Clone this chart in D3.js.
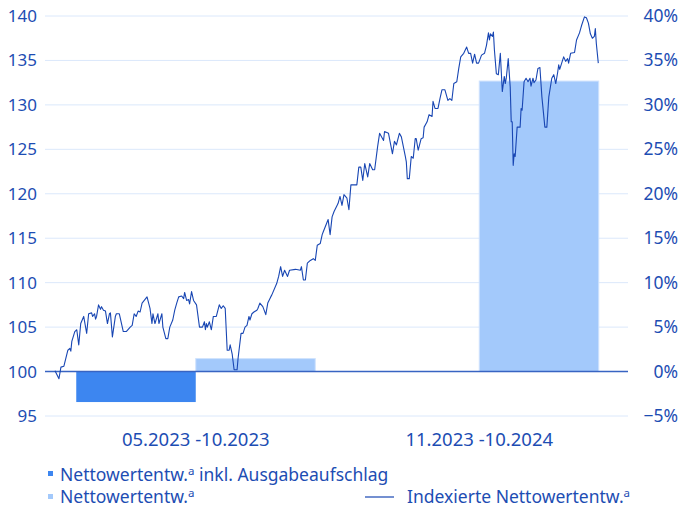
<!DOCTYPE html>
<meta charset="utf-8">
<body style="margin:0">
<script src="https://cdn.jsdelivr.net/npm/d3@7"></script>
<div id="chart"></div>
<script>
// periods and bar values (in %)
var periods = ['05.2023 -10.2023', '11.2023 -10.2024'];
var inklAufschlag = [-3.43, null];
var netto = [1.46, 32.68];

// indexed NAV, days since 01.05.2023
var days = [0,4,6,9,13,15,16,17,20,22,24,26,29,32,34,37,38,40,41,42,44,46,47,49,51,53,55,56,58,61,62,65,69,72,76,78,80,82,84,86,88,93,96,98,99,101,104,105,108,109,112,114,116,119,121,123,125,128,130,131,133,135,136,138,140,143,
  146,149,151,152,153,154,156,158,160,163,166,168,170,172,174,176,177,179,181,184,185,188,190,192,194,196,197,199,201,204,205,207,210,213,215,218,219,224,226,228,230,232,235,237,243,248,249,251,253,255,258,261,263,265,268,270,271,276,278,280,282,286,288,290,292,
  295,297,299,305,307,309,311,313,316,318,321,323,326,328,332,333,337,341,343,345,348,350,354,355,356,358,360,362,364,365,367,370,372,373,376,378,381,382,384,387,389,391,394,397,399,401,403,406,408,410,413,416,418,420,422,424,426,428,431,434,
  436,438,439,440,442,443,444,446,448,450,452,454,455,456,458,460,461,462,463,464,465,467,470,471,472,474,476,478,480,481,483,484,486,488,490,492,495,497,499,502,504,506,508,509,510,512,514,516,518,519,521,525,527,530,532,535,537,539,541,543,545,546,547,549];
var nav = [100.1,99.2,100.5,100.6,102.4,102.6,102.3,103.4,104.5,104.7,103.0,105.4,106.2,104.3,106.5,106.6,106.2,106.5,105.9,106.2,107.5,107.0,107.3,106.9,106.8,105.4,106.5,106.6,103.9,106.2,106.5,106.5,104.5,104.5,105.0,105.2,106.5,106.2,106.8,106.7,107.7,108.4,107.1,105.4,106.5,105.4,106.5,105.4,106.5,105.0,103.7,103.7,105.0,105.8,106.9,107.7,108.4,108.5,108.2,108.9,108.0,108.1,107.6,109.0,108.0,107.5,
  105.0,105.0,105.6,104.7,105.4,105.0,105.6,104.7,106.2,106.2,107.5,107.1,107.4,107.1,102.4,102.4,103.0,102.0,100.2,100.2,101.5,104.3,104.3,105.0,105.2,106.2,105.8,106.5,106.7,106.9,107.1,107.7,107.3,106.4,107.7,108.4,108.6,109.9,110.7,111.8,110.7,111.4,110.7,111.4,111.5,111.4,111.8,110.3,110.3,112.2,112.5,112.7,112.5,114.2,114.4,115.4,115.7,117.1,115.4,117.4,118.0,118.9,119.7,118.7,119.9,
  119.5,118.2,121.0,121.0,123.0,123.0,121.5,123.4,121.9,123.4,122.7,122.7,125.3,126.8,126.0,127.0,126.8,124.5,125.9,125.5,126.8,126.4,124.2,123.6,121.7,121.7,124.2,124.0,126.2,126.2,124.9,126.2,126.3,127.5,128.1,128.9,128.7,130.4,129.6,129.6,130.7,131.7,131.7,130.5,130.7,130.5,132.4,132.6,134.1,135.4,135.8,136.5,135.8,135.8,134.7,135.7,134.7,134.7,135.6,135.8,
  136.7,138.1,137.3,138.0,137.7,138.2,136.2,133.5,133.4,135.8,131.5,133.2,132.4,133.0,135.2,132.0,128.1,128.1,123.2,124.5,124.2,127.5,127.5,129.6,129.4,132.6,133.0,132.6,133.0,132.1,133.0,132.5,132.8,134.1,134.2,130.9,127.5,127.5,130.9,133.0,133.4,132.4,133.7,134.5,134.0,134.7,135.4,134.9,135.2,134.7,135.8,135.9,137.3,138.1,138.9,139.9,139.8,139.2,138.0,137.5,137.7,138.6,136.9,134.7];

var leftTicks = [95, 100, 105, 110, 115, 120, 125, 130, 135, 140];
var rightTicks = [-5, 0, 5, 10, 15, 20, 25, 30, 35, 40];

var W = 681, H = 510;
var textColor = '#1d4db3', darkBar = '#3d86f0', lightBar = '#a3c9fb', lineColor = '#1846b3';
var font = "'Noto Sans', sans-serif";

var svg = d3.select('#chart').append('svg').attr('width', W).attr('height', H)
  .style('font-family', font);

var yL = d3.scaleLinear().domain([95, 140]).range([416, 16]);
var yR = d3.scaleLinear().domain([-5, 40]).range([416, 16]);

var x0 = d3.scaleBand().domain(periods).range([54, 621]).paddingInner(0.157).paddingOuter(0.0785);
var x1 = d3.scaleBand().domain(['inkl', 'netto']).range([0, x0.bandwidth()]);
var start = new Date(2023, 4, 1);
var xt = d3.scaleTime().domain([start, d3.timeDay.offset(start, 549)]).range([55, 598.3]);

// grid
svg.append('g').selectAll('line').data(leftTicks).join('line')
  .attr('x1', 45).attr('x2', 628)
  .attr('y1', function(d) { return yL(d); }).attr('y2', function(d) { return yL(d); })
  .attr('stroke', '#dbe8fb').attr('stroke-width', 1);

// left axis labels
svg.append('g').selectAll('text').data(leftTicks).join('text')
  .attr('x', 37).attr('y', function(d) { return yL(d) + 6; })
  .attr('text-anchor', 'end').attr('fill', textColor).style('font-size', '17px')
  .text(function(d) { return d; });

// right axis labels
svg.append('g').selectAll('text').data(rightTicks).join('text')
  .attr('x', 678).attr('y', function(d) { return yR(d) + 6; })
  .attr('text-anchor', 'end').attr('fill', textColor).style('font-size', '17.5px')
  .text(function(d) { return (d < 0 ? '\u2212' + Math.abs(d) : d) + '%'; });

// bars
var barData = [];
periods.forEach(function(p, i) {
  if (inklAufschlag[i] != null) barData.push({ p: p, k: 'inkl', v: inklAufschlag[i] });
  if (netto[i] != null) barData.push({ p: p, k: 'netto', v: netto[i] });
});
svg.append('g').selectAll('rect').data(barData).join('rect')
  .attr('x', function(d) { return x0(d.p) + x1(d.k); })
  .attr('width', x1.bandwidth())
  .attr('y', function(d) { return yR(Math.max(0, d.v)); })
  .attr('height', function(d) { return Math.abs(yR(d.v) - yR(0)); })
  .attr('fill', function(d) { return d.k == 'inkl' ? darkBar : lightBar; })
  .attr('stroke', function(d) { return d.k == 'inkl' ? 'none' : '#cfe2fd'; })
  .attr('stroke-width', 1);

// zero line
svg.append('line').attr('x1', 45).attr('x2', 628).attr('y1', yR(0)).attr('y2', yR(0))
  .attr('stroke', '#3864c2').attr('stroke-width', 1.5);

// indexed line
var pts = days.map(function(d, i) { return [d3.timeDay.offset(start, d), nav[i]]; });
svg.append('path').datum(pts)
  .attr('fill', 'none').attr('stroke', lineColor).attr('stroke-width', 1.1)
  .attr('stroke-linejoin', 'round')
  .attr('d', d3.line().x(function(d) { return xt(d[0]); }).y(function(d) { return yL(d[1]); }));

// category labels
svg.append('g').selectAll('text').data(periods).join('text')
  .attr('x', function(d) { return x0(d) + x0.bandwidth() / 2; }).attr('y', 446)
  .attr('text-anchor', 'middle').attr('fill', textColor).style('font-size', '18.5px')
  .text(function(d) { return d; });

// legend
function legendText(g, x, y, before, after) {
  var t = g.append('text').attr('x', x).attr('y', y).attr('fill', textColor).style('font-size', '17.5px');
  t.append('tspan').text(before);
  t.append('tspan').attr('dy', -6).style('font-size', '11.5px').text('a');
  if (after) t.append('tspan').attr('dy', 6).text(after);
}
var lg = svg.append('g');
lg.append('rect').attr('x', 48).attr('y', 471).attr('width', 5).attr('height', 5).attr('fill', darkBar);
legendText(lg, 60, 481, 'Nettowertentw.', ' inkl. Ausgabeaufschlag');
lg.append('rect').attr('x', 48).attr('y', 494).attr('width', 5).attr('height', 5).attr('fill', lightBar);
legendText(lg, 60, 503, 'Nettowertentw.', null);
lg.append('line').attr('x1', 365).attr('x2', 394).attr('y1', 497).attr('y2', 497)
  .attr('stroke', lineColor).attr('stroke-width', 1.2);
legendText(lg, 407, 503, 'Indexierte Nettowertentw.', null);
</script>
</body>
